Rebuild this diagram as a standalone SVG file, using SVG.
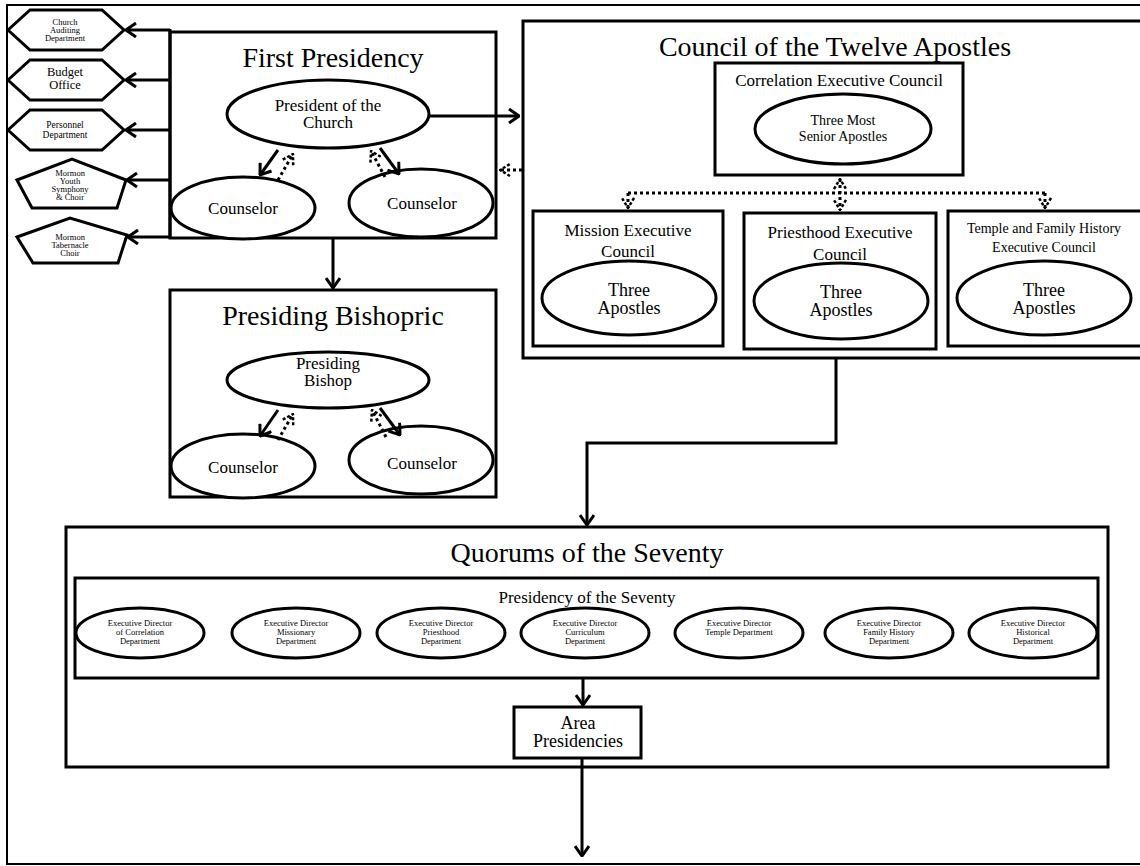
<svg xmlns="http://www.w3.org/2000/svg" width="1140" height="866" viewBox="0 0 1140 866">
<defs>
<style>
.box{fill:#fff;stroke:#000;stroke-width:3}
.frame{fill:none;stroke:#000;stroke-width:3}
.ell{fill:#fff;stroke:#000;stroke-width:3}
.ln{fill:none;stroke:#000;stroke-width:3}
.dot{fill:none;stroke:#000;stroke-width:3;stroke-dasharray:3 3}
text{font-family:"Liberation Serif","Times New Roman",serif;fill:#000;text-anchor:middle}
.t28{font-size:28px}
.t18{font-size:18px}
.t17{font-size:17px}
.t14{font-size:14px}
.t12{font-size:12.5px}
.t9{font-size:9.5px}
.t8{font-size:8.5px}
</style>
<marker id="ah" markerUnits="userSpaceOnUse" viewBox="0 0 12 16" refX="11" refY="8" markerWidth="12" markerHeight="16" orient="auto-start-reverse">
<path d="M1,1 L11,8 L1,15" fill="none" stroke="#000" stroke-width="3"/>
</marker>
<marker id="ahd" markerUnits="userSpaceOnUse" viewBox="0 0 12 14" refX="11" refY="7" markerWidth="12" markerHeight="14" orient="auto-start-reverse">
<path d="M1,1 L11,7 L1,13" fill="none" stroke="#000" stroke-width="2.5" stroke-dasharray="3 2"/>
</marker>
</defs>
<rect x="7" y="5" width="1150" height="859" fill="#fff" stroke="#000" stroke-width="2"/>

<g id="auditing">
<polygon class="box" points="8,30 30,10 102,10 124,30 102,50 30,50"/>
<text class="t8" x="65" y="25">Church</text>
<text class="t8" x="65" y="33">Auditing</text>
<text class="t8" x="65" y="41">Department</text>
</g>
<g id="budget">
<polygon class="box" points="8,80 30,60 102,60 124,80 102,100 30,100"/>
<text class="t12" x="65" y="76">Budget</text>
<text class="t12" x="65" y="89">Office</text>
</g>
<g id="personnel">
<polygon class="box" points="8,130 30,110 102,110 124,130 102,150 30,150"/>
<text class="t9" x="65" y="128">Personnel</text>
<text class="t9" x="65" y="138">Department</text>
</g>
<g id="youth">
<polygon class="box" points="17,180 72,159 126,180 117,208 32,208"/>
<text class="t8" x="70" y="176">Mormon</text>
<text class="t8" x="70" y="184">Youth</text>
<text class="t8" x="70" y="192">Symphony</text>
<text class="t8" x="70" y="200">&amp; Choir</text>
</g>
<g id="tabernacle">
<polygon class="box" points="17,237 70,218 127,235 118,263 33,263"/>
<text class="t8" x="70" y="240">Mormon</text>
<text class="t8" x="70" y="248">Tabernacle</text>
<text class="t8" x="70" y="256">Choir</text>
</g>

<g id="first-presidency">
<rect class="frame" x="170" y="32" width="326" height="206"/>
<text class="t28" x="333" y="67">First Presidency</text>
<ellipse class="ell" cx="328" cy="114" rx="101" ry="34"/>
<text class="t17" x="328" y="111">President of the</text>
<text class="t17" x="328" y="128">Church</text>
<ellipse class="ell" cx="243" cy="208" rx="72" ry="31"/>
<text class="t17" x="243" y="214">Counselor</text>
<ellipse class="ell" cx="421" cy="203" rx="72" ry="34"/>
<text class="t17" x="422" y="209">Counselor</text>
</g>

<g id="presiding-bishopric">
<rect class="frame" x="170" y="290" width="326" height="207"/>
<text class="t28" x="333" y="325">Presiding Bishopric</text>
<ellipse class="ell" cx="328" cy="380" rx="101" ry="28"/>
<text class="t17" x="328" y="369">Presiding</text>
<text class="t17" x="328" y="386">Bishop</text>
<ellipse class="ell" cx="243" cy="466" rx="72" ry="32"/>
<text class="t17" x="243" y="473">Counselor</text>
<ellipse class="ell" cx="421" cy="460" rx="72" ry="34"/>
<text class="t17" x="422" y="469">Counselor</text>
</g>

<g id="council-twelve">
<rect class="frame" x="523" y="21" width="640" height="337"/>
<text class="t28" x="835" y="56">Council of the Twelve Apostles</text>
</g>
<g id="correlation">
<rect class="frame" x="715" y="63" width="248" height="112"/>
<text class="t17" x="839" y="86">Correlation Executive Council</text>
<ellipse class="ell" cx="843" cy="129" rx="88" ry="35"/>
<text class="t14" x="843" y="125">Three Most</text>
<text class="t14" x="843" y="141">Senior Apostles</text>
</g>
<g id="mission">
<rect class="frame" x="533" y="211" width="190" height="135"/>
<text class="t17" x="628" y="236">Mission Executive</text>
<text class="t17" x="628" y="257">Council</text>
<ellipse class="ell" cx="629" cy="298" rx="87" ry="37"/>
<text class="t18" x="629" y="296">Three</text>
<text class="t18" x="629" y="314">Apostles</text>
</g>
<g id="priesthood">
<rect class="frame" x="744" y="213" width="192" height="136"/>
<text class="t17" x="840" y="238">Priesthood Executive</text>
<text class="t17" x="840" y="260">Council</text>
<ellipse class="ell" cx="841" cy="301" rx="87" ry="38"/>
<text class="t18" x="841" y="298">Three</text>
<text class="t18" x="841" y="316">Apostles</text>
</g>
<g id="temple-family">
<rect class="frame" x="948" y="211" width="210" height="135"/>
<text class="t14" x="1044" y="233">Temple and Family History</text>
<text class="t14" x="1044" y="252">Executive Council</text>
<ellipse class="ell" cx="1044" cy="298" rx="87" ry="37"/>
<text class="t18" x="1044" y="296">Three</text>
<text class="t18" x="1044" y="314">Apostles</text>
</g>

<g id="quorums">
<rect class="frame" x="66" y="527" width="1042" height="240"/>
<text class="t28" x="587" y="562">Quorums of the Seventy</text>
</g>
<g id="presidency-seventy">
<rect class="frame" x="75" y="578" width="1023" height="100"/>
<text class="t17" x="587" y="603">Presidency of the Seventy</text>
</g>
<g id="ed-correlation">
<ellipse class="ell" cx="140" cy="633" rx="64" ry="25"/>
<text class="t8" x="140" y="626">Executive Director</text>
<text class="t8" x="140" y="635">of Correlation</text>
<text class="t8" x="140" y="644">Department</text>
</g>
<g id="ed-missionary">
<ellipse class="ell" cx="296" cy="633" rx="64" ry="25"/>
<text class="t8" x="296" y="626">Executive Director</text>
<text class="t8" x="296" y="635">Missionary</text>
<text class="t8" x="296" y="644">Department</text>
</g>
<g id="ed-priesthood">
<ellipse class="ell" cx="441" cy="633" rx="64" ry="25"/>
<text class="t8" x="441" y="626">Executive Director</text>
<text class="t8" x="441" y="635">Priesthood</text>
<text class="t8" x="441" y="644">Department</text>
</g>
<g id="ed-curriculum">
<ellipse class="ell" cx="585" cy="633" rx="64" ry="25"/>
<text class="t8" x="585" y="626">Executive Director</text>
<text class="t8" x="585" y="635">Curriculum</text>
<text class="t8" x="585" y="644">Department</text>
</g>
<g id="ed-temple">
<ellipse class="ell" cx="739" cy="633" rx="64" ry="25"/>
<text class="t8" x="739" y="626">Executive Director</text>
<text class="t8" x="739" y="635">Temple Department</text>
</g>
<g id="ed-family-history">
<ellipse class="ell" cx="889" cy="633" rx="64" ry="25"/>
<text class="t8" x="889" y="626">Executive Director</text>
<text class="t8" x="889" y="635">Family History</text>
<text class="t8" x="889" y="644">Department</text>
</g>
<g id="ed-historical">
<ellipse class="ell" cx="1033" cy="633" rx="64" ry="25"/>
<text class="t8" x="1033" y="626">Executive Director</text>
<text class="t8" x="1033" y="635">Historical</text>
<text class="t8" x="1033" y="644">Department</text>
</g>
<g id="area-presidencies">
<rect class="box" x="514" y="707" width="127" height="51"/>
<text class="t18" x="578" y="729">Area</text>
<text class="t18" x="578" y="747">Presidencies</text>
</g>

<g id="connectors">
<path class="ln" d="M170,29 V238"/>
<path class="ln" d="M170,30 H126" marker-end="url(#ah)"/>
<path class="ln" d="M170,80 H126" marker-end="url(#ah)"/>
<path class="ln" d="M170,130 H126" marker-end="url(#ah)"/>
<path class="ln" d="M170,180 H127" marker-end="url(#ah)"/>
<path class="ln" d="M170,237 H128" marker-end="url(#ah)"/>
<path class="ln" d="M278,150 L260,175" marker-end="url(#ah)"/>
<path class="dot" d="M278,180 L293,154" marker-end="url(#ahd)"/>
<path class="ln" d="M380,148 L399,174" marker-end="url(#ah)"/>
<path class="dot" d="M385,177 L371,151" marker-end="url(#ahd)"/>
<path class="ln" d="M430,116 L519,116" marker-end="url(#ah)"/>
<path class="dot" d="M522,170 L500,170" marker-end="url(#ahd)"/>
<path class="ln" d="M333,239 L333,288" marker-end="url(#ah)"/>
<path class="ln" d="M278,410 L260,436" marker-end="url(#ah)"/>
<path class="dot" d="M278,440 L293,414" marker-end="url(#ahd)"/>
<path class="ln" d="M380,408 L400,435" marker-end="url(#ah)"/>
<path class="dot" d="M386,437 L372,410" marker-end="url(#ahd)"/>
<path class="dot" d="M840,179 L840,210" marker-start="url(#ahd)" marker-end="url(#ahd)"/>
<path class="dot" d="M628,193 H1045"/>
<path class="dot" d="M628,193 V208" marker-end="url(#ahd)"/>
<path class="dot" d="M1045,193 V208" marker-end="url(#ahd)"/>
<path class="ln" d="M836,359 V443 H587 V525" marker-end="url(#ah)"/>
<path class="ln" d="M583,679 V705" marker-end="url(#ah)"/>
<path class="ln" d="M582,759 V856" marker-end="url(#ah)"/>
</g>
</svg>
